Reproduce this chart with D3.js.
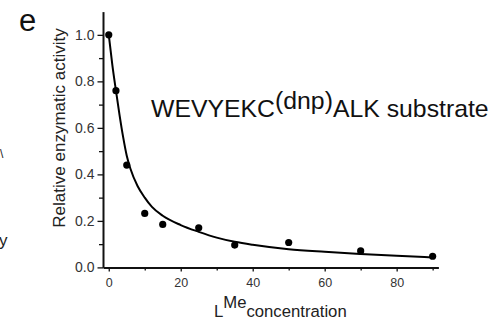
<!DOCTYPE html>
<html>
<head>
<meta charset="utf-8">
<script src="https://cdn.jsdelivr.net/npm/d3@7"></script>
<style>
  body { margin: 0; background: #fff; }
  svg { display: block; font-family: "Liberation Sans", Arial, sans-serif; }
</style>
</head>
<body>
<div id="chart"></div>
<script>
// measured points
const concentration = [0, 2, 5, 10, 15, 25, 35, 50, 70, 90];
const activity = [1.0, 0.76, 0.44, 0.232, 0.185, 0.17, 0.096, 0.107, 0.071, 0.048];

// fitted curve
const fitX = [0, 1, 2, 3, 4, 5, 6, 8, 10, 12, 15, 20, 25, 30, 35, 40, 50, 60, 70, 80, 90];
const fitY = [1.0, 0.87, 0.76, 0.655, 0.56, 0.48, 0.425, 0.35, 0.3, 0.26, 0.222, 0.182, 0.153, 0.128, 0.11, 0.097, 0.078, 0.067, 0.058, 0.05, 0.043];

const xMajor = [0, 20, 40, 60, 80];
const xMinor = [10, 30, 50, 70, 90];
const yMajor = [0, 0.2, 0.4, 0.6, 0.8, 1.0];
const yMinor = [0.1, 0.3, 0.5, 0.7, 0.9];

const width = 500, height = 329;

const svg = d3.select('#chart')
  .append('svg')
  .attr('width', width)
  .attr('height', height);

//Scales
const x = d3.scaleLinear().domain([-1.6, 91.6]).range([103, 438.4]);
const y = d3.scaleLinear().domain([0, 1.1]).range([267.4, 11.6]);

//Minor ticks first
svg.append('g')
  .attr('transform', `translate(0,${y(0)})`)
  .call(d3.axisBottom(x).tickValues(xMinor).tickSize(3).tickSizeOuter(0).tickFormat(''))
  .call(g => g.select('.domain').remove())
  .call(g => g.selectAll('line').attr('stroke', '#111').attr('stroke-width', 1.3));

svg.append('g')
  .attr('transform', `translate(${x(-1.6)},0)`)
  .call(d3.axisLeft(y).tickValues(yMinor).tickSize(4).tickSizeOuter(0).tickFormat(''))
  .call(g => g.select('.domain').remove())
  .call(g => g.selectAll('line').attr('stroke', '#111').attr('stroke-width', 1.3));

//Major axes
svg.append('g')
  .attr('transform', `translate(0,${y(0)})`)
  .call(d3.axisBottom(x).tickValues(xMajor).tickSize(4).tickPadding(7).tickSizeOuter(0).tickFormat(d3.format('d')))
  .call(g => g.select('.domain').attr('stroke', '#111').attr('stroke-width', 2))
  .call(g => g.selectAll('line').attr('stroke', '#111').attr('stroke-width', 1.3))
  .call(g => g.selectAll('text').attr('font-size', 12.5).attr('fill', '#333').attr('font-family', null));

svg.append('g')
  .attr('transform', `translate(${x(-1.6)},0)`)
  .call(d3.axisLeft(y).tickValues(yMajor).tickSize(5.5).tickPadding(3).tickSizeOuter(0).tickFormat(d3.format('.1f')))
  .call(g => g.select('.domain').attr('stroke', '#111').attr('stroke-width', 2))
  .call(g => g.selectAll('line').attr('stroke', '#111').attr('stroke-width', 1.3))
  .call(g => g.selectAll('text').attr('font-size', 14).attr('fill', '#333').attr('font-family', null));

//Fit line
const line = d3.line()
  .x((d, i) => x(fitX[i]))
  .y(d => y(d))
  .curve(d3.curveMonotoneX);

svg.append('path')
  .attr('d', line(fitY))
  .attr('fill', 'none')
  .attr('stroke', '#000')
  .attr('stroke-width', 2);

//Points
svg.selectAll('.pt')
  .data(activity)
  .enter()
  .append('circle')
  .attr('class', 'pt')
  .attr('cx', (d, i) => x(concentration[i]))
  .attr('cy', d => y(d))
  .attr('r', 3.6)
  .attr('fill', '#000');

//Labels
svg.append('text')
  .attr('x', 19)
  .attr('y', 31)
  .attr('font-size', 31)
  .attr('fill', '#111')
  .text('e');

svg.append('text')
  .attr('transform', 'translate(65,128) rotate(-90)')
  .attr('text-anchor', 'middle')
  .attr('font-size', 17)
  .attr('fill', '#222')
  .text('Relative enzymatic activity');

const title = svg.append('text')
  .attr('x', 151)
  .attr('y', 117)
  .attr('font-size', 24.8)
  .attr('fill', '#111');
title.append('tspan').text('WEVYEKC');
title.append('tspan').attr('dy', -8).text('(dnp)');
title.append('tspan').attr('dy', 8).text('ALK substrate');

const xl = svg.append('text')
  .attr('x', 214)
  .attr('y', 317)
  .attr('font-size', 16.7)
  .attr('fill', '#222');
xl.append('tspan').text('L');
xl.append('tspan').attr('dy', -9).text('Me');
xl.append('tspan').attr('dy', 9).text('concentration');

//cut-off text from the neighbouring panel
svg.append('text')
  .attr('x', -1)
  .attr('y', 246)
  .attr('font-size', 17)
  .attr('fill', '#222')
  .text('y');
svg.append('text')
  .attr('x', 0)
  .attr('y', 158)
  .attr('font-size', 12)
  .attr('fill', '#222')
  .text('\\');
</script>
</body>
</html>
